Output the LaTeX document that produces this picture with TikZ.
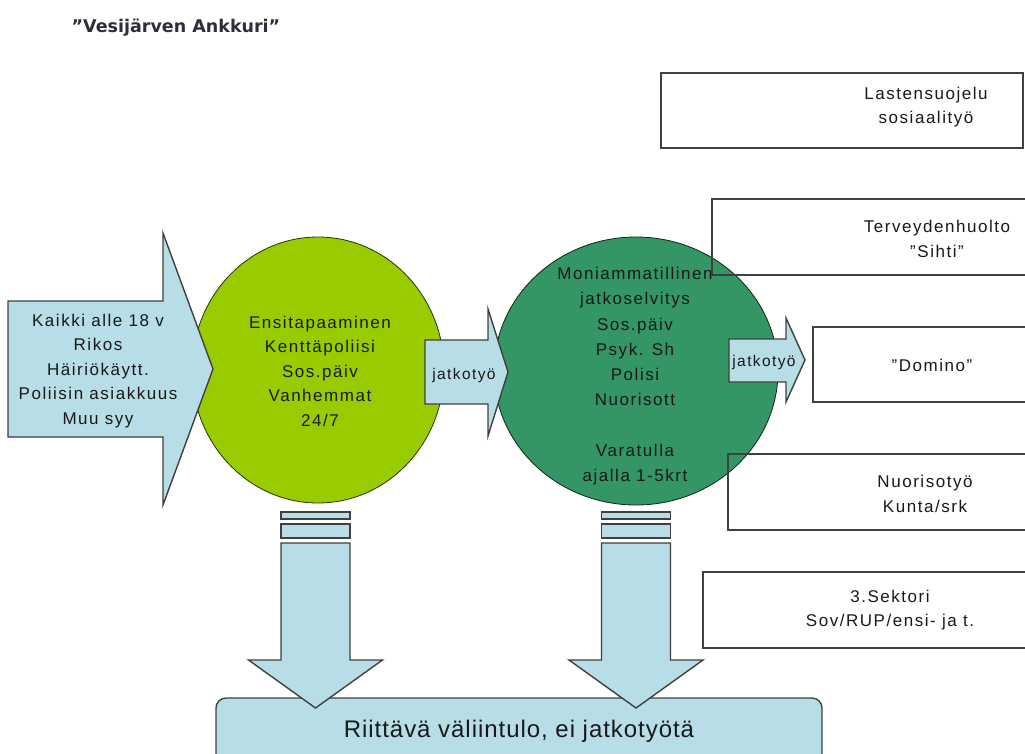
\documentclass[tikz,border=0pt]{standalone}
\usepackage{fontspec}
\setmainfont{Liberation Sans}
\newfontfamily\lsp[LetterSpace=9]{Liberation Sans}
\newfontfamily\lspb[LetterSpace=4]{Liberation Sans}
\newfontfamily\ttl{DejaVu Sans}
\definecolor{lblue}{RGB}{183,221,230}
\definecolor{lgreen}{RGB}{153,204,0}
\definecolor{dgreen}{RGB}{51,150,100}
\definecolor{edge}{RGB}{64,64,64}
\definecolor{txt}{RGB}{25,25,25}
\definecolor{ttlc}{RGB}{45,45,60}
\begin{document}
\begin{tikzpicture}[x=1pt,y=-1pt,
  arrowshape/.style={fill=lblue,draw=edge,line width=1.4pt,line join=miter},
  boxshape/.style={draw=edge,line width=1.2pt},
  lbl/.style={font=\lsp\fontsize{17}{24.5}\selectfont,align=center,text=txt,inner sep=0pt},
  smalllbl/.style={font=\lsp\fontsize{15.5}{18}\selectfont,text=txt,inner sep=0pt},
]
\useasboundingbox (0,0) rectangle (1025,753);
\fill[white] (0,0) rectangle (1025,753);

% title
\node[font=\ttl\bfseries\fontsize{17.5}{20}\selectfont,text=ttlc,inner sep=0pt] (title) at (176,28) {”Vesijärven Ankkuri”};

% bottom box
\draw[arrowshape,rounded corners=10pt] (216,698) rectangle (822,790);
\node[font=\lspb\fontsize{24}{28}\selectfont,text=txt,inner sep=0pt] (riitt) at (519,731) {Riittävä väliintulo, ei jatkotyötä};

% circles
\draw[fill=lgreen,draw=black!75!lgreen,line width=0.8pt] (318,370) ellipse (126 and 133);
\draw[fill=dgreen,draw=black!75!dgreen,line width=0.8pt] (636,371) ellipse (142 and 134);

% left arrow
\draw[arrowshape] (8,301) -- (163,301) -- (163,233) -- (213,369) -- (163,505) -- (163,437) -- (8,437) -- cycle;
\node[lbl] (input) at (98,371) {Kaikki alle 18 v\\Rikos\\Häiriökäytt.\\Poliisin asiakkuus\\Muu syy};

% circle texts
\node[lbl] (first) at (320,371) {Ensitapaaminen\\Kenttäpoliisi\\Sos.päiv\\Vanhemmat\\24/7};
\node[lbl,font=\lsp\fontsize{17}{25.2}\selectfont] (multi) at (635,376) {Moniammatillinen\\jatkoselvitys\\Sos.päiv\\Psyk. Sh\\Polisi\\Nuorisott\\[25.2pt]Varatulla\\ajalla 1-5krt};

% jatkotyo arrows
\draw[arrowshape] (425,340) -- (488,340) -- (488,309) -- (508,372) -- (488,436) -- (488,404) -- (425,404) -- cycle;
\node[smalllbl] (j1) at (464,375) {jatkotyö};
\draw[arrowshape] (729,339) -- (786,339) -- (786,318) -- (805,360) -- (786,402) -- (786,382) -- (729,382) -- cycle;
\node[smalllbl] (j2) at (764,362) {jatkotyö};

% down arrows
\foreach \cx in {315.5,636} {
  \draw[arrowshape,line width=1.2pt] (\cx-34.5,512) rectangle (\cx+34.5,519);
  \draw[arrowshape,line width=1.2pt] (\cx-34.5,524) rectangle (\cx+34.5,538);
  \draw[arrowshape] (\cx-34.5,543) -- (\cx+34.5,543) -- (\cx+34.5,660) -- (\cx+67,660) -- (\cx,708) -- (\cx-67,660) -- (\cx-34.5,660) -- cycle;
}

% right boxes
\draw[boxshape] (661,73) rectangle (1023,148);
\node[lbl] (lasten) at (926,107) {Lastensuojelu\\sosiaalityö};
\draw[boxshape] (712,199) rectangle (1040,275);
\node[lbl] (terv) at (937,239) {Terveydenhuolto\\”Sihti”};
\draw[boxshape] (813,327) rectangle (1040,402);
\node[lbl] (domino) at (932,365) {”Domino”};
\draw[boxshape] (728,454) rectangle (1040,530);
\node[lbl] (nuoriso) at (925,494) {Nuorisotyö\\Kunta/srk};
\draw[boxshape] (703,572) rectangle (1040,648);
\node[lbl] (sektori) at (890,610) {3.Sektori\\Sov/RUP/ensi- ja t.};
\end{tikzpicture}
\end{document}
